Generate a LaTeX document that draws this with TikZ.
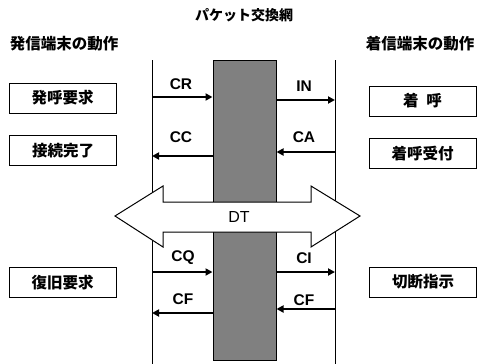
\documentclass[tikz,border=0pt]{standalone}
\usepackage{fontspec}
\setmainfont{Liberation Sans}
\newfontfamily\jp{Noto Sans CJK JP}
\usetikzlibrary{arrows.meta}

\tikzset{
  act/.style={draw, line width=1pt, minimum width=107pt, minimum height=30pt,
    inner sep=0pt, font=\jp\bfseries\fontsize{15.5}{16}\selectfont},
  head/.style={font=\jp\bfseries\fontsize{15.5}{16}\selectfont},
  msg/.style={line width=2pt, -{Triangle[length=7pt,width=7pt]}},
  lbl/.style={font=\bfseries\fontsize{15.5}{16}\selectfont},
}

\begin{document}
\begin{tikzpicture}[x=1pt,y=-1pt]
  \useasboundingbox (0,0) rectangle (477,364);

  % Titles
  \node[head, font=\jp\bfseries\fontsize{14}{14}\selectfont] (title) at (244,15) {パケット交換網};
  \node[head] (orig) at (64,44) {発信端末の動作};
  \node[head] (term) at (420,44) {着信端末の動作};

  % Terminal lines
  \coordinate (lt) at (152,60);
  \coordinate (lb) at (152,364);
  \coordinate (rt) at (335,60);
  \coordinate (rb) at (335,364);
  \draw[line width=1pt] (lt) -- (lb);
  \draw[line width=1pt] (rt) -- (rb);

  % Network
  \node[draw, line width=1pt, fill=gray, minimum width=63pt, minimum height=300pt,
    inner sep=0pt] (net) at (244.5,210) {};

  % Actions
  \node[act] (a1) at (62.5,98) {発呼要求};
  \node[act] (a2) at (63,150.5) {接続完了};
  \node[act] (a3) at (62.5,282.5) {復旧要求};
  \node[act] (b1) at (422.5,101) {着\hspace{0.5em}呼};
  \node[act] (b2) at (422.5,153.5) {着呼受付};
  \node[act] (b3) at (423,282) {切断指示};

  % Messages
  \coordinate (cr) at (152,97);
  \coordinate (cc) at (152,156);
  \coordinate (in) at (335,100);
  \coordinate (ca) at (335,152);
  \coordinate (cq) at (152,272);
  \coordinate (cfl) at (152,313);
  \coordinate (ci) at (335,272);
  \coordinate (cfr) at (335,309);
  \draw[msg] (cr) -- (cr -| net.west);
  \draw[msg] (cc -| net.west) -- (cc);
  \draw[msg] (in -| net.east) -- (in);
  \draw[msg] (ca) -- (ca -| net.east);
  \draw[msg] (cq) -- (cq -| net.west);
  \draw[msg] (cfl -| net.west) -- (cfl);
  \draw[msg] (ci -| net.east) -- (ci);
  \draw[msg] (cfr) -- (cfr -| net.east);

  \node[lbl] (lcr) at (181,84) {CR};
  \node[lbl] (lcc) at (181,137) {CC};
  \node[lbl] (lin) at (304,86) {IN};
  \node[lbl] (lca) at (304,137) {CA};
  \node[lbl] (lcq) at (183,258) {CQ};
  \node[lbl] (lcfl) at (183,299) {CF};
  \node[lbl] (lci) at (304,258) {CI};
  \node[lbl] (lcfr) at (304,300) {CF};

  % Data transfer
  \draw[line width=1pt, fill=white] (115,216) -- (163,186) -- (163,202) -- (311,202)
    -- (311,186) -- (360,216) -- (311,247) -- (311,232) -- (163,232) -- (163,247) -- cycle;
  \node[font=\fontsize{16}{16}\selectfont] (dt) at (239,217) {DT};
\end{tikzpicture}
\end{document}
